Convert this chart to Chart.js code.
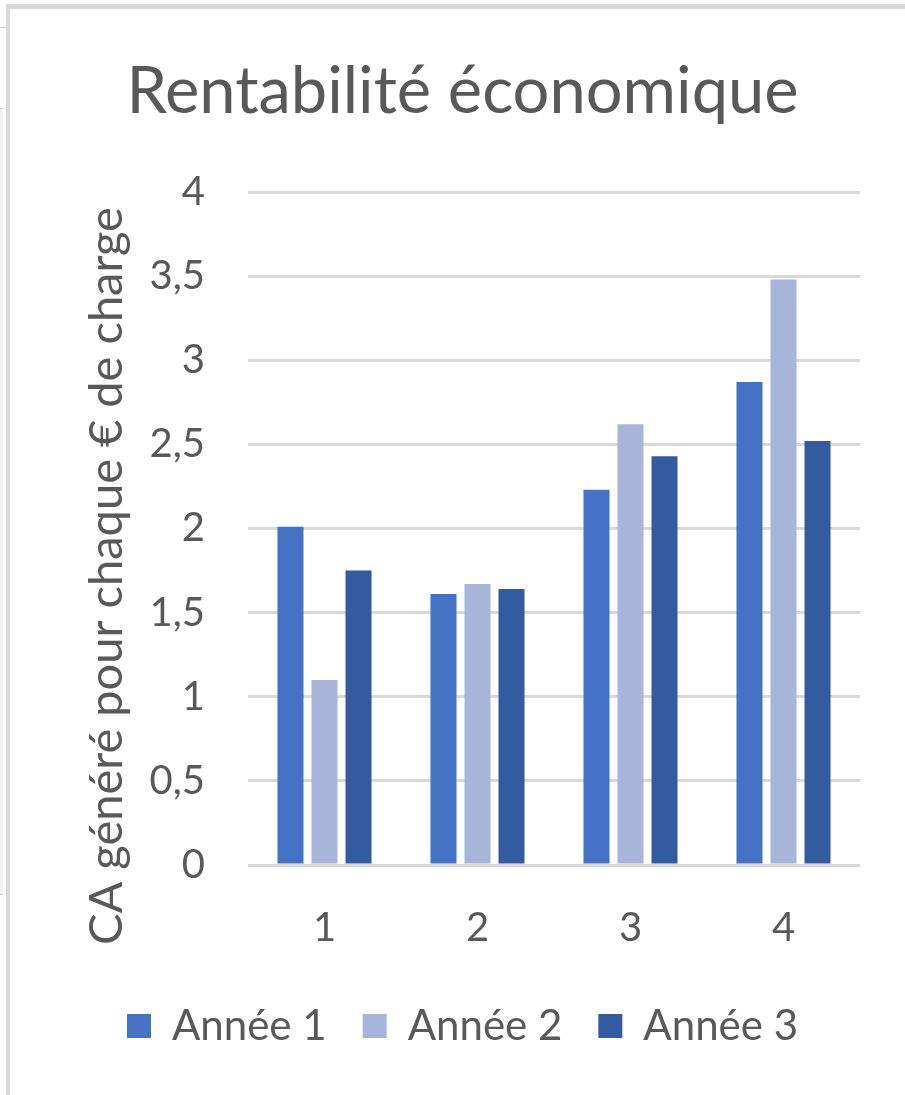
<!DOCTYPE html>
<html lang="fr">
<head>
<meta charset="utf-8">
<title>Rentabilité économique</title>
<script src="https://cdn.jsdelivr.net/npm/chart.js@4/dist/chart.umd.min.js"></script>
<style>
  html, body { margin: 0; padding: 0; background: #fff; }
  .frame {
    position: absolute; left: 6px; top: 4px; width: 899px; height: 1091px;
    border-left: 4px solid #d9d9d9; border-top: 5px solid #d9d9d9; box-sizing: border-box;
  }
  .edge { position: absolute; left: 0; top: 108px; width: 3px; height: 785px;
    background: #f2f2f2; border-top: 1px solid #d0d0d0; border-bottom: 1px solid #d0d0d0; }
  .edge-top { position: absolute; left: 0; top: 27px; width: 6px; height: 1px; background: #d0d0d0; }
  .wrap { position: absolute; left: 0; top: 0; width: 905px; height: 1095px; }
</style>
</head>
<body>
<div class="frame"></div>
<div class="edge"></div>
<div class="edge-top"></div>
<div class="wrap"><canvas id="chart" width="905" height="1095"></canvas></div>
<script>
// --- data ---
const categories = ['1', '2', '3', '4'];
const annee1 = [2.01, 1.61, 2.23, 2.87];
const annee2 = [1.10, 1.67, 2.62, 3.48];
const annee3 = [1.75, 1.64, 2.43, 2.52];
const seriesNames = ['Année 1', 'Année 2', 'Année 3'];
const yTickLabels = ['0', '0,5', '1', '1,5', '2', '2,5', '3', '3,5', '4'];
const yTitle = 'CA généré pour chaque € de charge';

const textColor = '#595959';
const fontFamily = 'Lato, "Noto Sans", sans-serif';

// y axis title drawn by hand: Excel centres it lower than the plot area
const yTitlePlugin = {
    id: 'yTitle',
    afterDraw(chart) {
        const ctx = chart.ctx;
        ctx.save();
        ctx.translate(107, 576);
        ctx.rotate(-Math.PI / 2);
        ctx.font = '47px ' + fontFamily;
        ctx.fillStyle = textColor;
        ctx.textAlign = 'center';
        ctx.textBaseline = 'middle';
        ctx.fillText(yTitle, 0, 0);
        ctx.restore();
    }
};

const ctx = document.getElementById('chart').getContext('2d');
new Chart(ctx, {
    type: 'bar',
    data: {
        labels: categories,
        datasets: [
            { label: seriesNames[0], data: annee1, backgroundColor: '#4472C4' },
            { label: seriesNames[1], data: annee2, backgroundColor: '#A7B5DB' },
            { label: seriesNames[2], data: annee3, backgroundColor: '#335BA0' }
        ]
    },
    options: {
        responsive: false,
        animation: false,
        categoryPercentage: 0.667,
        barPercentage: 0.765,
        layout: { padding: { left: 20, right: 0, top: 0, bottom: 38 } },
        scales: {
            x: {
                afterFit(scale) { scale.height = scale.height - 22; },
                grid: { display: false, drawTicks: false },
                border: { display: false },
                ticks: { color: textColor, font: { family: fontFamily, size: 40 }, padding: 39 }
            },
            y: {
                min: 0,
                max: 4,
                afterFit(scale) { scale.width = 228; },
                grid: { color: '#d9d9d9', lineWidth: 3, drawTicks: false },
                border: { display: false },
                ticks: {
                    stepSize: 0.5,
                    color: textColor,
                    font: { family: fontFamily, size: 40 },
                    padding: 43,
                    callback: (value, index) => yTickLabels[index]
                }
            },
            // empty right margin so title and legend centre like Excel
            yRight: {
                position: 'right',
                afterFit(scale) { scale.width = 45; },
                grid: { display: false, drawTicks: false },
                border: { display: false },
                ticks: { display: false }
            }
        },
        plugins: {
            title: {
                display: true,
                text: 'Rentabilité économique',
                color: textColor,
                font: { family: fontFamily, size: 65, weight: 'normal' },
                padding: { top: 53, bottom: 61 }
            },
            legend: {
                position: 'bottom',
                labels: {
                    color: textColor,
                    font: { family: fontFamily, size: 42 },
                    boxWidth: 24,
                    boxHeight: 24,
                    padding: 36
                }
            },
            tooltip: { enabled: false }
        }
    },
    plugins: [yTitlePlugin]
});
</script>
</body>
</html>
